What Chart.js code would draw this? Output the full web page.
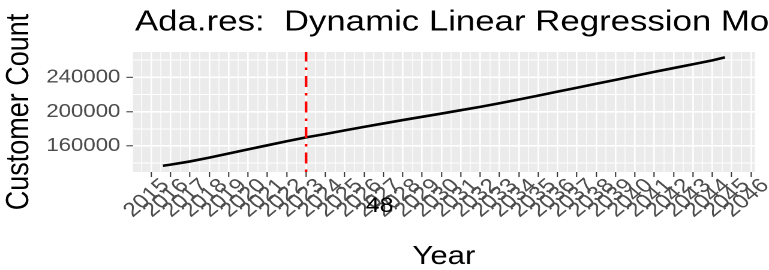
<!DOCTYPE html>
<html>
<head>
<meta charset="utf-8">
<title>Ada.res: Dynamic Linear Regression Model</title>
<script src="https://cdn.jsdelivr.net/npm/chart.js@4"></script>
<style>
  html, body { margin: 0; padding: 0; background: #fff; overflow: hidden; }
  /* the reference is a ggplot export stretched sideways, so stretch the canvas the same way */
  #wrap { width: 641px; height: 270px; transform: scaleX(1.1997); transform-origin: 0 0; }
</style>
</head>
<body>
<div id="wrap"><canvas id="chart" width="641" height="270"></canvas></div>
<script>
// values
const years = [2015.6, 2016, 2017, 2018, 2019, 2020, 2021, 2022, 2023, 2024, 2025, 2026, 2027, 2028, 2029,
  2030, 2031, 2032, 2033, 2034, 2035, 2036, 2037, 2038, 2039, 2040, 2041, 2042, 2043, 2044, 2044.65];
const customers = [137000, 138300, 142000, 146500, 151200, 156000, 160800, 165500, 170000, 174000, 178200,
  182300, 186300, 190200, 194000, 197800, 201700, 205600, 209800, 214200, 218700, 223300, 227900, 232500,
  237000, 241700, 246300, 250800, 255200, 259800, 263300];

const tickYears = [2015, 2016, 2017, 2018, 2019, 2020, 2021, 2022, 2023, 2024, 2025, 2026, 2027, 2028, 2029, 2030,
  2031, 2032, 2033, 2034, 2035, 2036, 2037, 2038, 2039, 2040, 2041, 2042, 2043, 2044, 2045, 2046];
const yMajor = [160000, 200000, 240000];
const yMinor = [140000, 180000, 220000, 260000];

const cutoffYear = 2023;
const cutoffText = '48';
const cutoffTextYear = 2026.8;
const titleText = 'Ada.res:  Dynamic Linear Regression Model';

const FONT = '"Liberation Sans", Arial, sans-serif';
Chart.defaults.font.family = FONT;

// grey ggplot panel
const panelBg = {
  id: 'panelBg',
  beforeDraw(chart) {
    const { ctx, chartArea: a } = chart;
    ctx.save();
    ctx.fillStyle = '#EBEBEB';
    ctx.fillRect(a.left, a.top, a.right - a.left, a.bottom - a.top);
    ctx.restore();
  }
};

// red dot-dash cutoff line and its label
const cutoff = {
  id: 'cutoff',
  afterDatasetsDraw(chart) {
    const { ctx, chartArea: a, scales } = chart;
    const x = scales.x.getPixelForValue(cutoffYear);
    ctx.save();
    ctx.strokeStyle = '#FF0000';
    ctx.lineWidth = 2.2;
    ctx.setLineDash([2.5, 6, 11, 6]);
    ctx.beginPath();
    ctx.moveTo(x, a.bottom);
    ctx.lineTo(x, a.top);
    ctx.stroke();
    ctx.restore();

    ctx.save();
    ctx.fillStyle = '#000';
    ctx.font = '21px ' + FONT;
    ctx.textAlign = 'center';
    ctx.textBaseline = 'alphabetic';
    ctx.fillText(cutoffText, scales.x.getPixelForValue(cutoffTextYear), a.bottom + 40);
    ctx.restore();
  }
};

// left aligned plot title, runs off the right edge like the reference
const plotTitle = {
  id: 'plotTitle',
  afterDraw(chart) {
    const { ctx, chartArea: a } = chart;
    ctx.save();
    ctx.fillStyle = '#000';
    ctx.font = '29px ' + FONT;
    ctx.textAlign = 'left';
    ctx.textBaseline = 'alphabetic';
    ctx.fillText(titleText, a.left + 1.7, 30.7);
    ctx.restore();
  }
};

const isMajorYear = v => tickYears.includes(v);
const isMajorY = v => yMajor.includes(v);

new Chart(document.getElementById('chart'), {
  type: 'line',
  data: {
    datasets: [{
      data: years.map((x, i) => ({ x: x, y: customers[i] })),
      borderColor: '#000000',
      borderWidth: 2.6,
      pointRadius: 0,
      tension: 0,
      fill: false
    }]
  },
  options: {
    responsive: false,
    animation: false,
    devicePixelRatio: 2,
    layout: { padding: { top: 52, right: 11.8, left: 0, bottom: 0 } },
    plugins: { legend: { display: false }, title: { display: false }, tooltip: { enabled: false } },
    scales: {
      x: {
        type: 'linear',
        min: 2014.05,
        max: 2046.2,
        afterBuildTicks: scale => {
          const vals = tickYears.concat(tickYears.map(y => y - 0.5)).sort((p, q) => p - q);
          scale.ticks = vals.map(v => ({ value: v }));
        },
        afterFit: scale => { scale.height = 98; },
        border: { display: false },
        grid: {
          color: '#FFFFFF',
          lineWidth: c => isMajorYear(c.tick.value) ? 1.3 : 0.7,
          tickLength: 5,
          tickWidth: 1,
          tickColor: c => isMajorYear(c.tick.value) ? '#333333' : 'rgba(0,0,0,0)'
        },
        ticks: {
          autoSkip: false,
          minRotation: 45,
          maxRotation: 45,
          labelOffset: 12,
          padding: -3,
          color: '#4D4D4D',
          font: { size: 20 },
          callback: v => isMajorYear(v) ? String(v) : ''
        },
        title: {
          display: true,
          text: 'Year',
          color: '#000',
          font: { size: 26, lineHeight: 1 },
          padding: 0
        }
      },
      y: {
        min: 129700,
        max: 269500,
        afterBuildTicks: scale => {
          const vals = yMajor.concat(yMinor).sort((p, q) => p - q);
          scale.ticks = vals.map(v => ({ value: v }));
        },
        afterFit: scale => { scale.width = 110.8; },
        border: { display: false },
        grid: {
          color: '#FFFFFF',
          lineWidth: c => isMajorY(c.tick.value) ? 1.6 : 0.9,
          tickLength: 5.5,
          tickWidth: 1,
          tickColor: c => isMajorY(c.tick.value) ? '#333333' : 'rgba(0,0,0,0)'
        },
        ticks: {
          autoSkip: false,
          padding: 5,
          color: '#4D4D4D',
          font: { size: 18.5 },
          callback: v => isMajorY(v) ? String(v) : ''
        },
        title: {
          display: true,
          text: 'Customer Count',
          color: '#000',
          font: { size: 27, lineHeight: 1.2 },
          padding: 0
        }
      }
    }
  },
  plugins: [panelBg, cutoff, plotTitle]
});
</script>
</body>
</html>
